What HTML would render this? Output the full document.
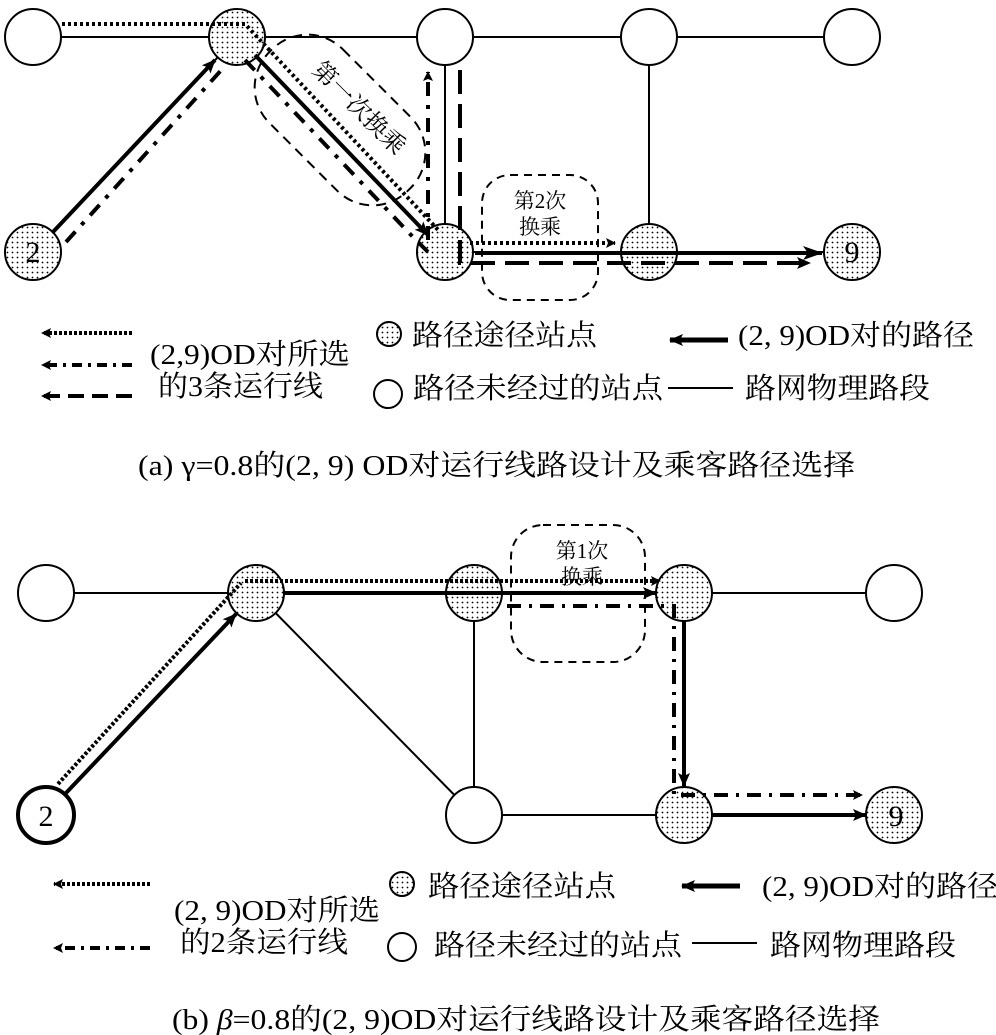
<!DOCTYPE html>
<html><head><meta charset="utf-8"><style>
html,body{margin:0;padding:0;background:#fff;}
svg{display:block;}
text{font-family:"Liberation Serif","Noto Serif CJK SC",serif;fill:#000;}
</style></head><body>
<svg width="996" height="1035" viewBox="0 0 996 1035" xmlns="http://www.w3.org/2000/svg">
<defs>
<pattern id="dots" width="5" height="5" patternUnits="userSpaceOnUse">
<rect width="5" height="5" fill="#fff"/><circle cx="2.5" cy="2.5" r="0.9" fill="#000"/></pattern>
<marker id="ah" markerWidth="10" markerHeight="10" refX="9" refY="5" orient="auto" markerUnits="userSpaceOnUse" viewBox="0 0 10 10"><path d="M0,0 L10,5 L0,10 L2,5 z" fill="#000"/></marker>
<marker id="ahb" markerWidth="20" markerHeight="14" refX="19" refY="7" orient="auto" markerUnits="userSpaceOnUse" viewBox="0 0 20 14"><path d="M0,0 L20,7 L0,14 L5,7 z" fill="#000"/></marker>
<marker id="ahm" markerWidth="14" markerHeight="12" refX="13" refY="6" orient="auto" markerUnits="userSpaceOnUse" viewBox="0 0 14 12"><path d="M0,0 L14,6 L0,12 L3,6 z" fill="#000"/></marker>
</defs>

<!-- ===== (a) ===== -->
<g stroke="#000" stroke-width="2" fill="none">
<line x1="33" y1="37" x2="852" y2="37"/>
<line x1="33" y1="252" x2="237" y2="37"/>
<line x1="237" y1="37" x2="445" y2="252"/>
<line x1="445" y1="37" x2="445" y2="252"/>
<line x1="649" y1="37" x2="649" y2="252"/>
<line x1="445" y1="252" x2="852" y2="252"/>
</g>
<g stroke="#000" stroke-width="2">
<circle cx="33" cy="37" r="28" fill="#fff"/>
<circle cx="237" cy="37" r="28" fill="url(#dots)"/>
<circle cx="445" cy="37" r="28" fill="#fff"/>
<circle cx="649" cy="37" r="28" fill="#fff"/>
<circle cx="852" cy="37" r="28" fill="#fff"/>
<circle cx="33" cy="252" r="28" fill="url(#dots)"/>
<circle cx="445" cy="252" r="28" fill="url(#dots)"/>
<circle cx="649" cy="252" r="28" fill="url(#dots)"/>
<circle cx="852" cy="252" r="28" fill="url(#dots)"/>
</g>
<text x="33" y="262" font-size="30" text-anchor="middle">2</text>
<text x="852" y="262" font-size="30" text-anchor="middle">9</text>

<g stroke="#000" stroke-width="4" fill="none">
<line x1="53" y1="232" x2="215" y2="60" marker-end="url(#ahm)"/>
<line x1="255" y1="55" x2="428" y2="235" marker-end="url(#ahm)"/>
<line x1="475" y1="253" x2="822" y2="253" marker-end="url(#ahb)"/>
</g>
<g stroke="#000" stroke-width="4" fill="none" stroke-dasharray="3,3">
<polyline points="62,24 245,24 440,232"/>
<polyline points="470,243 615,243" marker-end="url(#ah)"/>
</g>
<g stroke="#000" stroke-width="4" fill="none" stroke-dasharray="14,9,4,9">
<line x1="66" y1="242" x2="225" y2="66"/>
<polyline points="245,60 412,236 428,252"/>
<line x1="428" y1="240" x2="428" y2="72" marker-end="url(#ah)"/>
</g>
<g stroke="#000" stroke-width="4" fill="none" stroke-dasharray="24,10">
<polyline points="460,70 460,263 810,263" marker-end="url(#ahm)"/>
</g>
<g transform="translate(340,120) rotate(45)">
<rect x="-98" y="-52" width="196" height="104" rx="50" fill="none" stroke="#000" stroke-width="2" stroke-dasharray="10,7"/>
<text x="5" y="-14" font-size="24" text-anchor="middle">第一次换乘</text>
</g>
<rect x="482" y="175" width="116" height="125" rx="28" fill="none" stroke="#000" stroke-width="2" stroke-dasharray="8,6"/>
<text x="540" y="208" font-size="21" text-anchor="middle">第2次</text>
<text x="540" y="234" font-size="21" text-anchor="middle">换乘</text>

<!-- legend a -->
<g stroke="#000" stroke-width="3" fill="none">
<line x1="132" y1="333" x2="42" y2="333" stroke-width="4" stroke-dasharray="3,2" marker-end="url(#ah)"/>
<line x1="132" y1="365" x2="42" y2="365" stroke-width="4" stroke-dasharray="10,6,3,6" marker-end="url(#ah)"/>
<line x1="132" y1="396" x2="42" y2="396" stroke-width="4" stroke-dasharray="16,8" marker-end="url(#ah)"/>
<line x1="728" y1="340" x2="670" y2="340" stroke-width="5" marker-end="url(#ahm)"/>
<line x1="668" y1="388" x2="733" y2="388" stroke-width="2"/>
</g>
<circle cx="389" cy="334" r="12" fill="url(#dots)" stroke="#000" stroke-width="2"/>
<circle cx="388" cy="394" r="14" fill="#fff" stroke="#000" stroke-width="2"/>
<g font-size="29">
<text x="150" y="364" textLength="200" lengthAdjust="spacingAndGlyphs">(2,9)OD对所选</text>
<text x="158" y="396" textLength="165" lengthAdjust="spacingAndGlyphs">的3条运行线</text>
<text x="412" y="345" textLength="185" lengthAdjust="spacingAndGlyphs">路径途径站点</text>
<text x="738" y="345" textLength="236" lengthAdjust="spacingAndGlyphs">(2, 9)OD对的路径</text>
<text x="413" y="398" textLength="250" lengthAdjust="spacingAndGlyphs">路径未经过的站点</text>
<text x="745" y="398" textLength="185" lengthAdjust="spacingAndGlyphs">路网物理路段</text>
<text x="138" y="475" textLength="717" lengthAdjust="spacingAndGlyphs">(a)  γ=0.8的(2, 9) OD对运行线路设计及乘客路径选择</text>
</g>

<!-- ===== (b) ===== -->
<g stroke="#000" stroke-width="2" fill="none">
<line x1="46" y1="593" x2="894" y2="593"/>
<line x1="46" y1="815" x2="256" y2="593"/>
<line x1="256" y1="593" x2="474" y2="815"/>
<line x1="474" y1="593" x2="474" y2="815"/>
<line x1="684" y1="593" x2="684" y2="815"/>
<line x1="474" y1="815" x2="894" y2="815"/>
</g>
<g stroke="#000" stroke-width="2">
<circle cx="46" cy="593" r="28" fill="#fff"/>
<circle cx="256" cy="593" r="28" fill="url(#dots)"/>
<circle cx="474" cy="593" r="28" fill="url(#dots)"/>
<circle cx="684" cy="593" r="28" fill="url(#dots)"/>
<circle cx="894" cy="593" r="28" fill="#fff"/>
<circle cx="46" cy="815" r="28" fill="#fff" stroke-width="4"/>
<circle cx="474" cy="815" r="28" fill="#fff"/>
<circle cx="684" cy="815" r="28" fill="url(#dots)"/>
<circle cx="894" cy="815" r="28" fill="url(#dots)"/>
</g>
<text x="46" y="826" font-size="30" text-anchor="middle">2</text>
<text x="896" y="826" font-size="30" text-anchor="middle">9</text>

<g stroke="#000" stroke-width="4" fill="none">
<line x1="66" y1="793" x2="236" y2="614" marker-end="url(#ahm)"/>
<line x1="284" y1="593" x2="656" y2="593" marker-end="url(#ahm)"/>
<line x1="684" y1="621" x2="684" y2="786" marker-end="url(#ahm)"/>
<line x1="712" y1="815" x2="866" y2="815" marker-end="url(#ahm)"/>
</g>
<g stroke="#000" stroke-width="4" fill="none" stroke-dasharray="3,2">
<polyline points="58,784 241,583"/>
<polyline points="245,581 660,581" marker-end="url(#ah)"/>
</g>
<g stroke="#000" stroke-width="4" fill="none" stroke-dasharray="14,8,3,8">
<polyline points="507,606 674,606 674,795 862,795" marker-end="url(#ah)"/>
</g>
<rect x="511" y="525" width="134" height="137" rx="32" fill="none" stroke="#000" stroke-width="2" stroke-dasharray="8,6"/>
<text x="582" y="558" font-size="21" text-anchor="middle">第1次</text>
<text x="582" y="584" font-size="21" text-anchor="middle">换乘</text>

<!-- legend b -->
<g stroke="#000" stroke-width="3" fill="none">
<line x1="150" y1="884" x2="54" y2="884" stroke-width="4" stroke-dasharray="3,2" marker-end="url(#ah)"/>
<line x1="150" y1="948" x2="54" y2="948" stroke-width="4" stroke-dasharray="10,6,3,6" marker-end="url(#ah)"/>
<line x1="740" y1="886" x2="682" y2="886" stroke-width="5" marker-end="url(#ahm)"/>
<line x1="692" y1="943" x2="757" y2="943" stroke-width="2"/>
</g>
<circle cx="402" cy="884" r="12" fill="url(#dots)" stroke="#000" stroke-width="2"/>
<circle cx="402" cy="947" r="14" fill="#fff" stroke="#000" stroke-width="2"/>
<g font-size="29">
<text x="174" y="920" textLength="206" lengthAdjust="spacingAndGlyphs">(2, 9)OD对所选</text>
<text x="180" y="952" textLength="168" lengthAdjust="spacingAndGlyphs">的2条运行线</text>
<text x="428" y="896" textLength="188" lengthAdjust="spacingAndGlyphs">路径途径站点</text>
<text x="762" y="896" textLength="236" lengthAdjust="spacingAndGlyphs">(2, 9)OD对的路径</text>
<text x="434" y="955" textLength="248" lengthAdjust="spacingAndGlyphs">路径未经过的站点</text>
<text x="770" y="955" textLength="186" lengthAdjust="spacingAndGlyphs">路网物理路段</text>
<text x="172" y="1029" textLength="708" lengthAdjust="spacingAndGlyphs">(b)  <tspan font-style="italic">β</tspan>=0.8的(2, 9)OD对运行线路设计及乘客路径选择</text>
</g>
</svg>
</body></html>
